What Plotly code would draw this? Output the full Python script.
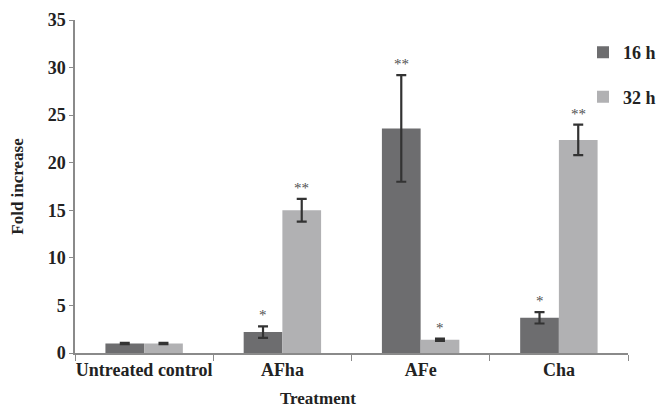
import plotly.graph_objects as go

categories = ["Untreated control", "AFha", "AFe", "Cha"]
h16_values = [1.0, 2.2, 23.6, 3.7]
h16_errors = [0.07, 0.6, 5.6, 0.6]
h16_marks = ["", "*", "**", "*"]
h32_values = [1.0, 15.0, 1.4, 22.4]
h32_errors = [0.07, 1.2, 0.12, 1.6]
h32_marks = ["", "**", "*", "**"]
y_ticks = [0, 5, 10, 15, 20, 25, 30, 35]

FONT = "Liberation Serif"
DARK = "#6d6d6f"
LIGHT = "#b1b1b3"
TXT = "#222222"

fig = go.Figure()
fig.add_trace(go.Bar(
    name="<b>16 h</b>", x=categories, y=h16_values, marker_color=DARK, marker_line_width=0,
    error_y=dict(type="data", array=h16_errors, color="#333333", thickness=2.2, width=5),
    legendgroup="a",
))
fig.add_trace(go.Bar(
    name="<b>32 h</b>", x=categories, y=h32_values, marker_color=LIGHT, marker_line_width=0,
    error_y=dict(type="data", array=h32_errors, color="#333333", thickness=2.2, width=5),
    legendgroup="b",
))

annotations = []
for i, c in enumerate(categories):
    for vals, errs, marks, off in ((h16_values, h16_errors, h16_marks, -0.14),
                                    (h32_values, h32_errors, h32_marks, 0.14)):
        if marks[i]:
            annotations.append(dict(
                x=i + off, y=vals[i] + errs[i], xref="x", yref="y",
                text=marks[i], showarrow=False, yanchor="bottom", yshift=1,
                font=dict(family=FONT, size=15, color="#505050"),
            ))
annotations.append(dict(
    x=0.44, y=-0.171, xref="paper", yref="paper", text="<b>Treatment</b>",
    showarrow=False, yanchor="bottom", font=dict(family=FONT, size=17, color=TXT),
))

# page body has an 8px margin, so the figure is sized to fit inside the window
fig.update_layout(
    width=653, height=402,
    margin=dict(l=67, r=33, t=12, b=57, autoexpand=False),
    paper_bgcolor="white", plot_bgcolor="white",
    barmode="group", bargap=0.44, bargroupgap=0,
    font=dict(family=FONT, size=16, color=TXT),
    showlegend=True,
    legend=dict(xref="container", yref="container", x=1.0, y=0.935,
                xanchor="right", yanchor="top",
                traceorder="grouped", tracegroupgap=18,
                font=dict(family=FONT, size=18, color=TXT),
                itemwidth=30, bgcolor="rgba(0,0,0,0)"),
    annotations=annotations,
)
fig.update_xaxes(
    showline=True, linecolor="#8a8a8a", linewidth=1.5,
    ticks="outside", tickson="boundaries", ticklen=6, tickcolor="#8a8a8a",
    tickangle=0, automargin=False,
    tickfont=dict(family=FONT, size=18, color=TXT, weight="bold"),
    showgrid=False,
)
fig.update_yaxes(
    range=[0, 35], tickvals=y_ticks, automargin=False,
    showline=True, linecolor="#8a8a8a", linewidth=1.5,
    ticks="outside", ticklen=4, tickcolor="#8a8a8a",
    tickfont=dict(family=FONT, size=18, color=TXT, weight="bold"),
    showgrid=False, zeroline=False,
    title=dict(text="<b>Fold increase</b>", standoff=25,
               font=dict(family=FONT, size=17, color=TXT)),
)

fig.write_html("out.html")
